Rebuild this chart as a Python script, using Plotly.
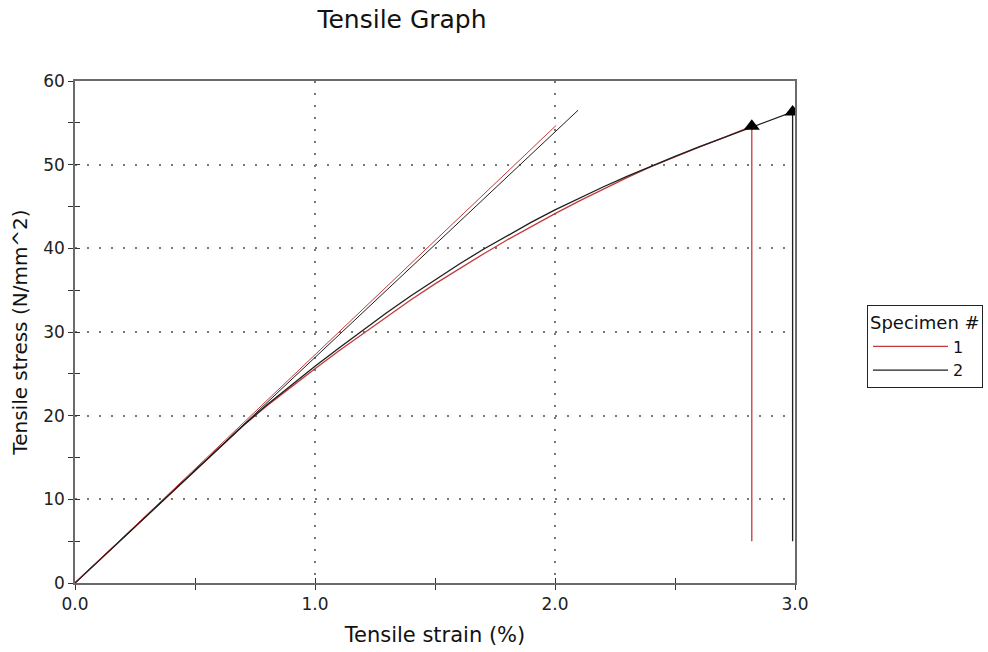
import plotly.graph_objects as go

# ---- data ----
strain_1 = [0.0, 0.2, 0.4, 0.5, 0.6, 0.7, 0.8, 0.9, 1.0, 1.1, 1.2, 1.3, 1.4, 1.5, 1.6, 1.7,
            1.8, 1.9, 2.0, 2.1, 2.2, 2.3, 2.4, 2.5, 2.6, 2.7, 2.82, 2.82]
stress_1 = [0.0, 5.4, 10.8, 13.5, 16.2, 18.8, 21.2, 23.45, 25.6, 27.75, 29.8, 31.85, 33.85,
            35.75, 37.55, 39.3, 41.0, 42.6, 44.15, 45.65, 47.1, 48.45, 49.75, 50.95, 52.1,
            53.2, 54.6, 5.0]

strain_2 = [0.0, 0.2, 0.4, 0.5, 0.6, 0.7, 0.8, 0.9, 1.0, 1.1, 1.2, 1.3, 1.4, 1.5, 1.6, 1.7,
            1.8, 1.9, 2.0, 2.1, 2.2, 2.3, 2.4, 2.5, 2.6, 2.7, 2.8, 2.9, 2.99, 2.99]
stress_2 = [0.0, 5.4, 10.8, 13.5, 16.2, 18.8, 21.3, 23.65, 25.9, 28.1, 30.25, 32.33, 34.33,
            36.26, 38.1, 39.86, 41.53, 43.1, 44.6, 46.0, 47.33, 48.6, 49.82, 51.0, 52.12,
            53.2, 54.25, 55.27, 56.3, 5.0]

tangent_1_x = [0.0, 2.005]
tangent_1_y = [0.0, 54.7]
tangent_2_x = [0.0, 2.096]
tangent_2_y = [0.0, 56.5]

break_x = [2.82, 2.99]
break_y = [54.6, 56.3]

specimens = ["1", "2"]
colors = ["#c43a3a", "#1e1e1e"]

x_ticks = [0.0, 1.0, 2.0, 3.0]
y_ticks = [0, 10, 20, 30, 40, 50, 60]

FONT = "DejaVu Sans"

fig = go.Figure()

fig.add_trace(go.Scatter(x=strain_1, y=stress_1, mode="lines", name=specimens[0],
                         line=dict(color=colors[0], width=1.3)))
fig.add_trace(go.Scatter(x=strain_2, y=stress_2, mode="lines", name=specimens[1],
                         line=dict(color=colors[1], width=1.3)))
fig.add_trace(go.Scatter(x=tangent_1_x, y=tangent_1_y, mode="lines", showlegend=False,
                         line=dict(color=colors[0], width=1), xaxis="x2", yaxis="y2"))
fig.add_trace(go.Scatter(x=tangent_2_x, y=tangent_2_y, mode="lines", showlegend=False,
                         line=dict(color=colors[1], width=1), xaxis="x2", yaxis="y2"))
fig.add_trace(go.Scatter(x=break_x, y=break_y, mode="markers", showlegend=False,
                         marker=dict(symbol="triangle-up", size=14, color="black")))

axis_common = dict(
    showline=True, linecolor="#6a6a6a", linewidth=1.5, mirror=True,
    ticks="outside", ticklen=5, tickcolor="#333", tickwidth=1,
    showgrid=True, gridcolor="#777", gridwidth=1.5, griddash="2px,10px",
    zeroline=False,
    tickfont=dict(family=FONT, size=17, color="#222"),
)

fig.update_layout(
    width=988, height=652,
    margin=dict(l=75, r=193, t=81, b=69, autoexpand=False),
    paper_bgcolor="white", plot_bgcolor="white",
    font=dict(family=FONT, color="#111"),
    title=dict(text="Tensile Graph", x=(402 - 75) / 720, xref="paper", xanchor="center",
               y=1 - 19 / 652, yanchor="middle", font=dict(family=FONT, size=25, color="#111")),
    xaxis=dict(range=[0, 3.0], tickvals=x_ticks, ticktext=[f"{v:.1f}" for v in x_ticks],
               minor=dict(dtick=0.5, ticks="outside", ticklen=5, tickcolor="#333", showgrid=False),
               title=dict(text="Tensile strain (%)", standoff=14,
                          font=dict(family=FONT, size=21, color="#111")),
               **axis_common),
    yaxis=dict(range=[0, 60], tickvals=y_ticks,
               minor=dict(dtick=5, ticks="outside", ticklen=5, tickcolor="#333", showgrid=False),
               title=dict(text="Tensile stress (N/mm^2)", standoff=10,
                          font=dict(family=FONT, size=20, color="#111")),
               **axis_common),
    xaxis2=dict(overlaying="x", matches="x", range=[0, 3.0], showgrid=False, showline=False,
                zeroline=False, showticklabels=False, ticks="inside", ticklen=5,
                tickcolor="#333", tickvals=x_ticks,
                minor=dict(dtick=0.5, ticks="inside", ticklen=5, tickcolor="#333")),
    yaxis2=dict(overlaying="y", matches="y", range=[0, 60], showgrid=False, showline=False,
                zeroline=False, showticklabels=False, ticks="inside", ticklen=5,
                tickcolor="#333", tickvals=y_ticks,
                minor=dict(dtick=5, ticks="inside", ticklen=5, tickcolor="#333")),
    legend=dict(x=(867 - 75) / 720, y=(583 - 305) / 502, xanchor="left", yanchor="top",
                bordercolor="#222", borderwidth=1, bgcolor="white",
                title=dict(text="Specimen #", font=dict(family=FONT, size=18, color="#111")),
                font=dict(family=FONT, size=16, color="#111"),
                tracegroupgap=0, itemwidth=75),
    showlegend=True,
)

fig.write_html("out.html")
